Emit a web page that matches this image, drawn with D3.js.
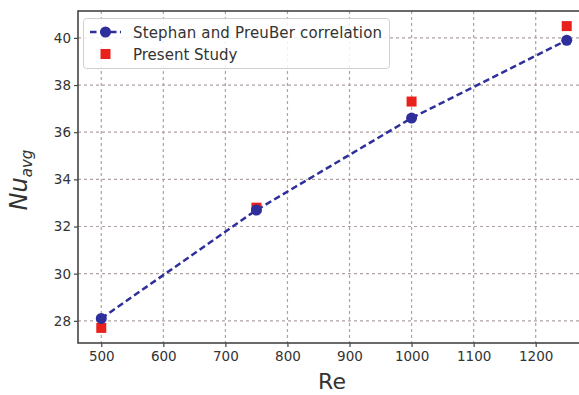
<!DOCTYPE html>
<html>
<head>
<meta charset="utf-8">
<script src="https://cdn.jsdelivr.net/npm/d3@7"></script>
<style>
  body { margin: 0; background: #fff; }
  svg { display: block; font-family: "DejaVu Sans", sans-serif; }
</style>
</head>
<body>
<div id="chart"></div>
<script>
var width = 579;
var height = 395;

// data
var reValues = [500, 750, 1000, 1250];
var correlationNu = [28.1, 32.7, 36.6, 39.9];
var presentNu = [27.7, 32.8, 37.3, 40.5];
var xTicks = [500, 600, 700, 800, 900, 1000, 1100, 1200];
var yTicks = [28, 30, 32, 34, 36, 38, 40];
var seriesNames = ["Stephan and PreuBer correlation", "Present Study"];

var blue = "#2f2f9c";
var red = "#e8211d";
var gridColor = "#b0a2a2";
var frameColor = "#454545";

var svg = d3.select("#chart")
  .append("svg")
  .attr("width", width)
  .attr("height", height);

var xScale = d3.scaleLinear()
  .domain([462.5, 1287.5])
  .range([78, 590]);
var yScale = d3.scaleLinear()
  .domain([27.06, 41.14])
  .range([343, 11]);

// grid
svg.append("g").selectAll("line.vg")
  .data(xTicks).enter()
  .append("line")
  .attr("x1", function(d) { return xScale(d); })
  .attr("x2", function(d) { return xScale(d); })
  .attr("y1", yScale.range()[1])
  .attr("y2", yScale.range()[0])
  .attr("stroke", gridColor)
  .attr("stroke-width", 1.2)
  .attr("stroke-dasharray", "3,3");
svg.append("g").selectAll("line.hg")
  .data(yTicks).enter()
  .append("line")
  .attr("y1", function(d) { return yScale(d); })
  .attr("y2", function(d) { return yScale(d); })
  .attr("x1", xScale.range()[0])
  .attr("x2", xScale.range()[1])
  .attr("stroke", gridColor)
  .attr("stroke-width", 1.2)
  .attr("stroke-dasharray", "3,3");

// axes
var xAxis = d3.axisBottom(xScale).tickValues(xTicks).tickFormat(d3.format("d")).tickSize(4).tickPadding(4);
var yAxis = d3.axisLeft(yScale).tickValues(yTicks).tickFormat(d3.format("d")).tickSize(4).tickPadding(3);

var gx = svg.append("g")
  .attr("transform", "translate(0," + yScale.range()[0] + ")")
  .call(xAxis);
var gy = svg.append("g")
  .attr("transform", "translate(" + xScale.range()[0] + ",0)")
  .call(yAxis);

[gx, gy].forEach(function(g) {
  g.select(".domain").remove();
  g.selectAll(".tick line").attr("stroke", frameColor).attr("stroke-width", 1.2);
  g.selectAll(".tick text")
    .attr("fill", "#333")
    .style("font-size", "13.5px")
    .style("font-family", "DejaVu Sans, sans-serif");
});

// frame
svg.append("rect")
  .attr("x", xScale.range()[0])
  .attr("y", yScale.range()[1])
  .attr("width", xScale.range()[1] - xScale.range()[0])
  .attr("height", yScale.range()[0] - yScale.range()[1])
  .attr("fill", "none")
  .attr("stroke", frameColor)
  .attr("stroke-width", 1.6);

// correlation line
var line = d3.line()
  .x(function(d, i) { return xScale(reValues[i]); })
  .y(function(d) { return yScale(d); });

svg.append("path")
  .datum(correlationNu)
  .attr("d", line)
  .attr("fill", "none")
  .attr("stroke", blue)
  .attr("stroke-width", 2.5)
  .attr("stroke-dasharray", "6.5,3.5");

// present study squares
var sq = 10;
svg.append("g").selectAll("rect")
  .data(presentNu).enter()
  .append("rect")
  .attr("x", function(d, i) { return xScale(reValues[i]) - sq / 2; })
  .attr("y", function(d) { return yScale(d) - sq / 2; })
  .attr("width", sq)
  .attr("height", sq)
  .attr("fill", red);

// correlation circles
svg.append("g").selectAll("circle")
  .data(correlationNu).enter()
  .append("circle")
  .attr("cx", function(d, i) { return xScale(reValues[i]); })
  .attr("cy", function(d) { return yScale(d); })
  .attr("r", 5.5)
  .attr("fill", blue);

// legend
var legend = svg.append("g");
legend.append("rect")
  .attr("x", 83.5)
  .attr("y", 18.5)
  .attr("width", 306)
  .attr("height", 50)
  .attr("rx", 3)
  .attr("fill", "#fff")
  .attr("fill-opacity", 0.85)
  .attr("stroke", "#d0d0d0")
  .attr("stroke-width", 1);

legend.append("line")
  .attr("x1", 90).attr("x2", 121)
  .attr("y1", 32).attr("y2", 32)
  .attr("stroke", blue)
  .attr("stroke-width", 2.5)
  .attr("stroke-dasharray", "6.5,3.5");
legend.append("circle")
  .attr("cx", 105.5).attr("cy", 32).attr("r", 5.5)
  .attr("fill", blue);
legend.append("rect")
  .attr("x", 100.5).attr("y", 49).attr("width", sq).attr("height", sq)
  .attr("fill", red);

legend.selectAll("text.lg")
  .data(seriesNames).enter()
  .append("text")
  .attr("x", 133)
  .attr("y", function(d, i) { return 37.5 + i * 22; })
  .attr("fill", "#333")
  .attr("textLength", function(d, i) { return i === 0 ? 249 : null; })
  .style("font-size", "15px")
  .text(function(d) { return d; });

// axis labels
svg.append("text")
  .attr("x", 332)
  .attr("y", 389)
  .attr("text-anchor", "middle")
  .attr("fill", "#333")
  .style("font-size", "22px")
  .text("Re");

var yl = svg.append("text")
  .attr("transform", "translate(27,180) rotate(-90)")
  .attr("text-anchor", "middle")
  .attr("fill", "#333")
  .style("font-style", "italic");
yl.append("tspan").style("font-size", "24px").text("Nu");
yl.append("tspan").style("font-size", "15px").attr("dy", 5).text("avg");
</script>
</body>
</html>
